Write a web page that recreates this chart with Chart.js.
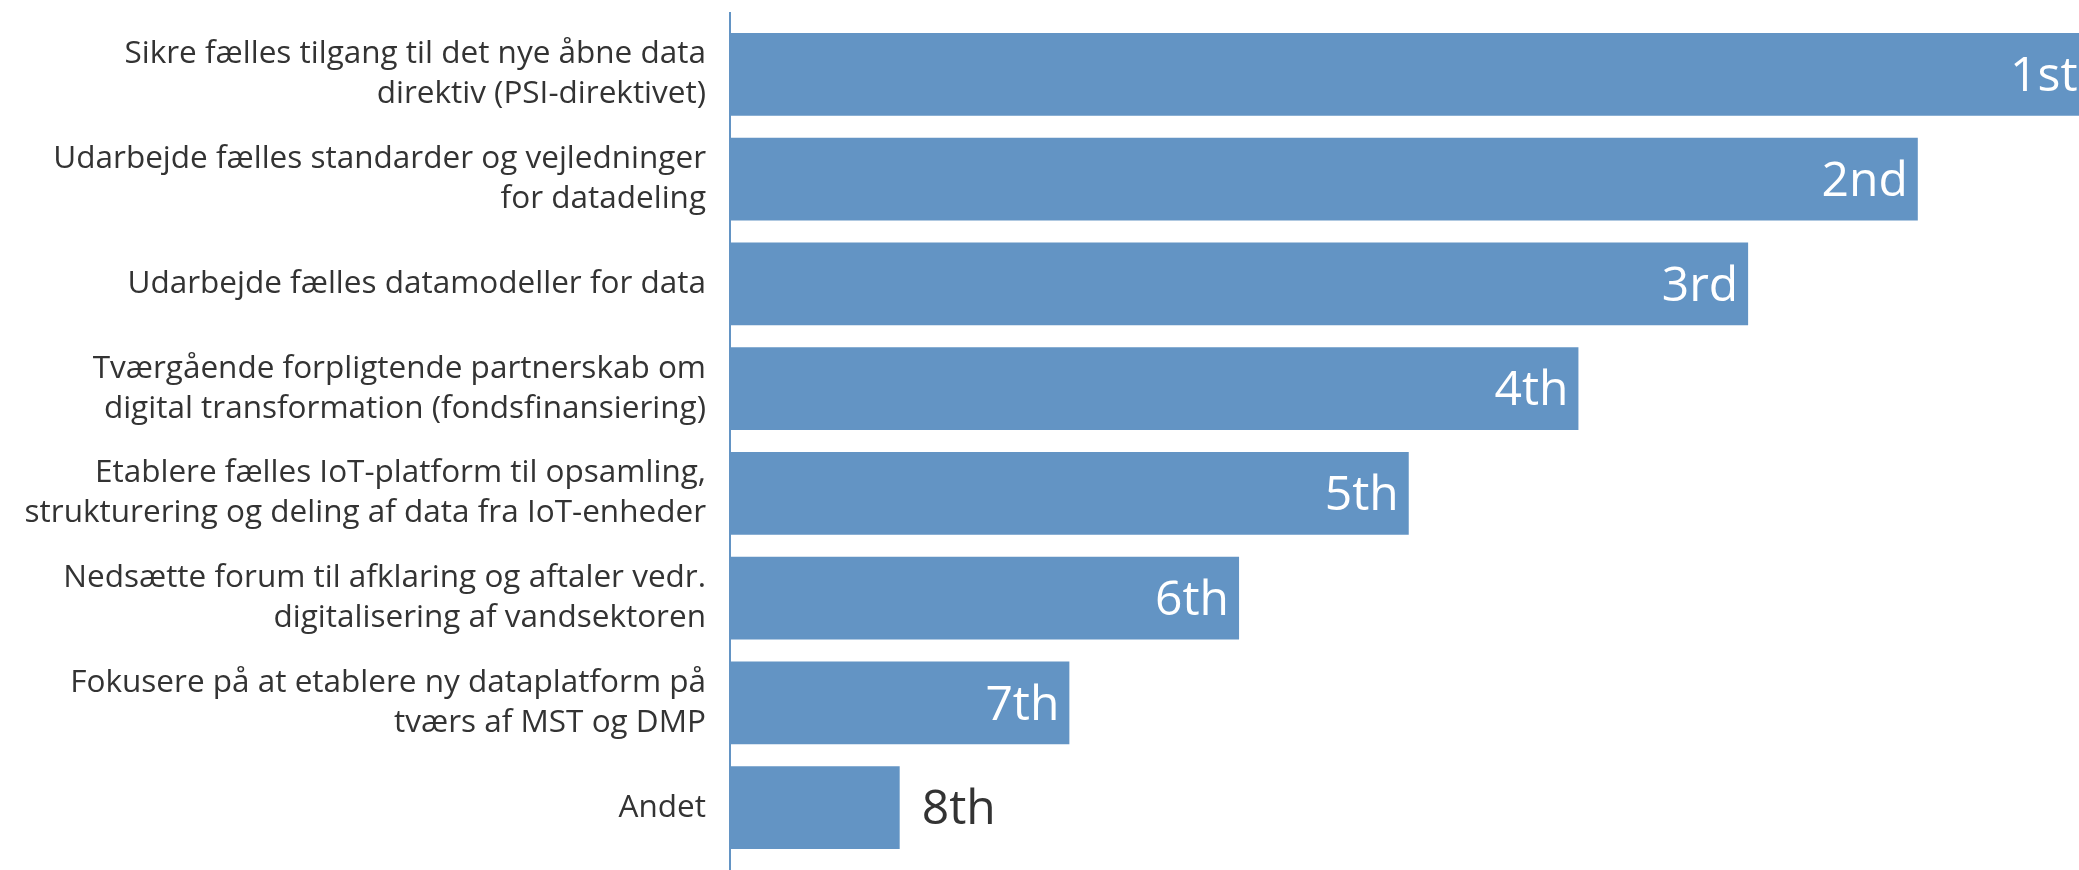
<!DOCTYPE html>
<html>
<head>
<meta charset="utf-8">
<script src="https://cdn.jsdelivr.net/npm/chart.js@4"></script>
<style>
    html, body { margin: 0; padding: 0; background: #ffffff; }
    #wrap { width: 2079px; height: 870px; }
</style>
</head>
<body>
<div id="wrap"><canvas id="rankChart"></canvas></div>
<script>
// Chart data
const categories = [
    ['Sikre fælles tilgang til det nye åbne data', 'direktiv (PSI-direktivet)'],
    ['Udarbejde fælles standarder og vejledninger', 'for datadeling'],
    ['Udarbejde fælles datamodeller for data'],
    ['Tværgående forpligtende partnerskab om', 'digital transformation (fondsfinansiering)'],
    ['Etablere fælles IoT-platform til opsamling,', 'strukturering og deling af data fra IoT-enheder'],
    ['Nedsætte forum til afklaring og aftaler vedr.', 'digitalisering af vandsektoren'],
    ['Fokusere på at etablere ny dataplatform på', 'tværs af MST og DMP'],
    ['Andet']
];
const scores = [8, 7, 6, 5, 4, 3, 2, 1];
const rankLabels = ['1st', '2nd', '3rd', '4th', '5th', '6th', '7th', '8th'];

const BAR_COLOR = '#6394C4';
const TEXT_COLOR = '#333333';
const FONT = '"Open Sans", sans-serif';

// Draws the rank text at the end of each bar
const rankLabelPlugin = {
    id: 'rankLabels',
    afterDatasetsDraw(chart) {
        const ctx = chart.ctx;
        const meta = chart.getDatasetMeta(0);
        ctx.save();
        ctx.font = '48px ' + FONT;
        ctx.textBaseline = 'middle';
        meta.data.forEach((bar, i) => {
            const text = rankLabels[i];
            const w = ctx.measureText(text).width;
            const barLen = bar.x - bar.base;
            if (barLen > w * 2.5) {
                ctx.fillStyle = '#ffffff';
                ctx.textAlign = 'right';
                ctx.fillText(text, bar.x - 10, bar.y + 3);
            } else {
                ctx.fillStyle = TEXT_COLOR;
                ctx.textAlign = 'left';
                ctx.fillText(text, bar.x + 22, bar.y + 3);
            }
        });
        ctx.restore();
    }
};

// Vertical axis line running the full height
const axisLinePlugin = {
    id: 'axisLine',
    afterDraw(chart) {
        const ctx = chart.ctx;
        const x = chart.chartArea.left;
        ctx.save();
        ctx.strokeStyle = BAR_COLOR;
        ctx.lineWidth = 2;
        ctx.beginPath();
        ctx.moveTo(x, chart.chartArea.top - 10);
        ctx.lineTo(x, chart.height);
        ctx.stroke();
        ctx.restore();
    }
};

function initializeRankChart() {
    const ctx = document.getElementById('rankChart');
    if (!ctx) return;

    const config = {
        type: 'bar',
        data: {
            labels: categories,
            datasets: [{
                data: scores,
                backgroundColor: BAR_COLOR,
                borderWidth: 0,
                barPercentage: 0.79,
                categoryPercentage: 1.0
            }]
        },
        options: {
            indexAxis: 'y',
            responsive: true,
            maintainAspectRatio: false,
            animation: false,
            layout: {
                padding: { top: 22, bottom: 10, left: 0, right: 0 }
            },
            plugins: {
                legend: { display: false },
                tooltip: { enabled: false }
            },
            scales: {
                x: {
                    display: false,
                    min: 0,
                    max: 7.95
                },
                y: {
                    grid: { display: false },
                    border: { display: false },
                    afterFit: function(scale) {
                        scale.width = 730;
                        scale.paddingTop = 0;
                        scale.paddingBottom = 0;
                    },
                    ticks: {
                        color: TEXT_COLOR,
                        padding: 16,
                        font: {
                            family: FONT,
                            size: 31.5,
                            lineHeight: 1.27
                        }
                    }
                }
            }
        },
        plugins: [rankLabelPlugin, axisLinePlugin]
    };

    new Chart(ctx, config);
}

document.addEventListener('DOMContentLoaded', initializeRankChart);
</script>
</body>
</html>
